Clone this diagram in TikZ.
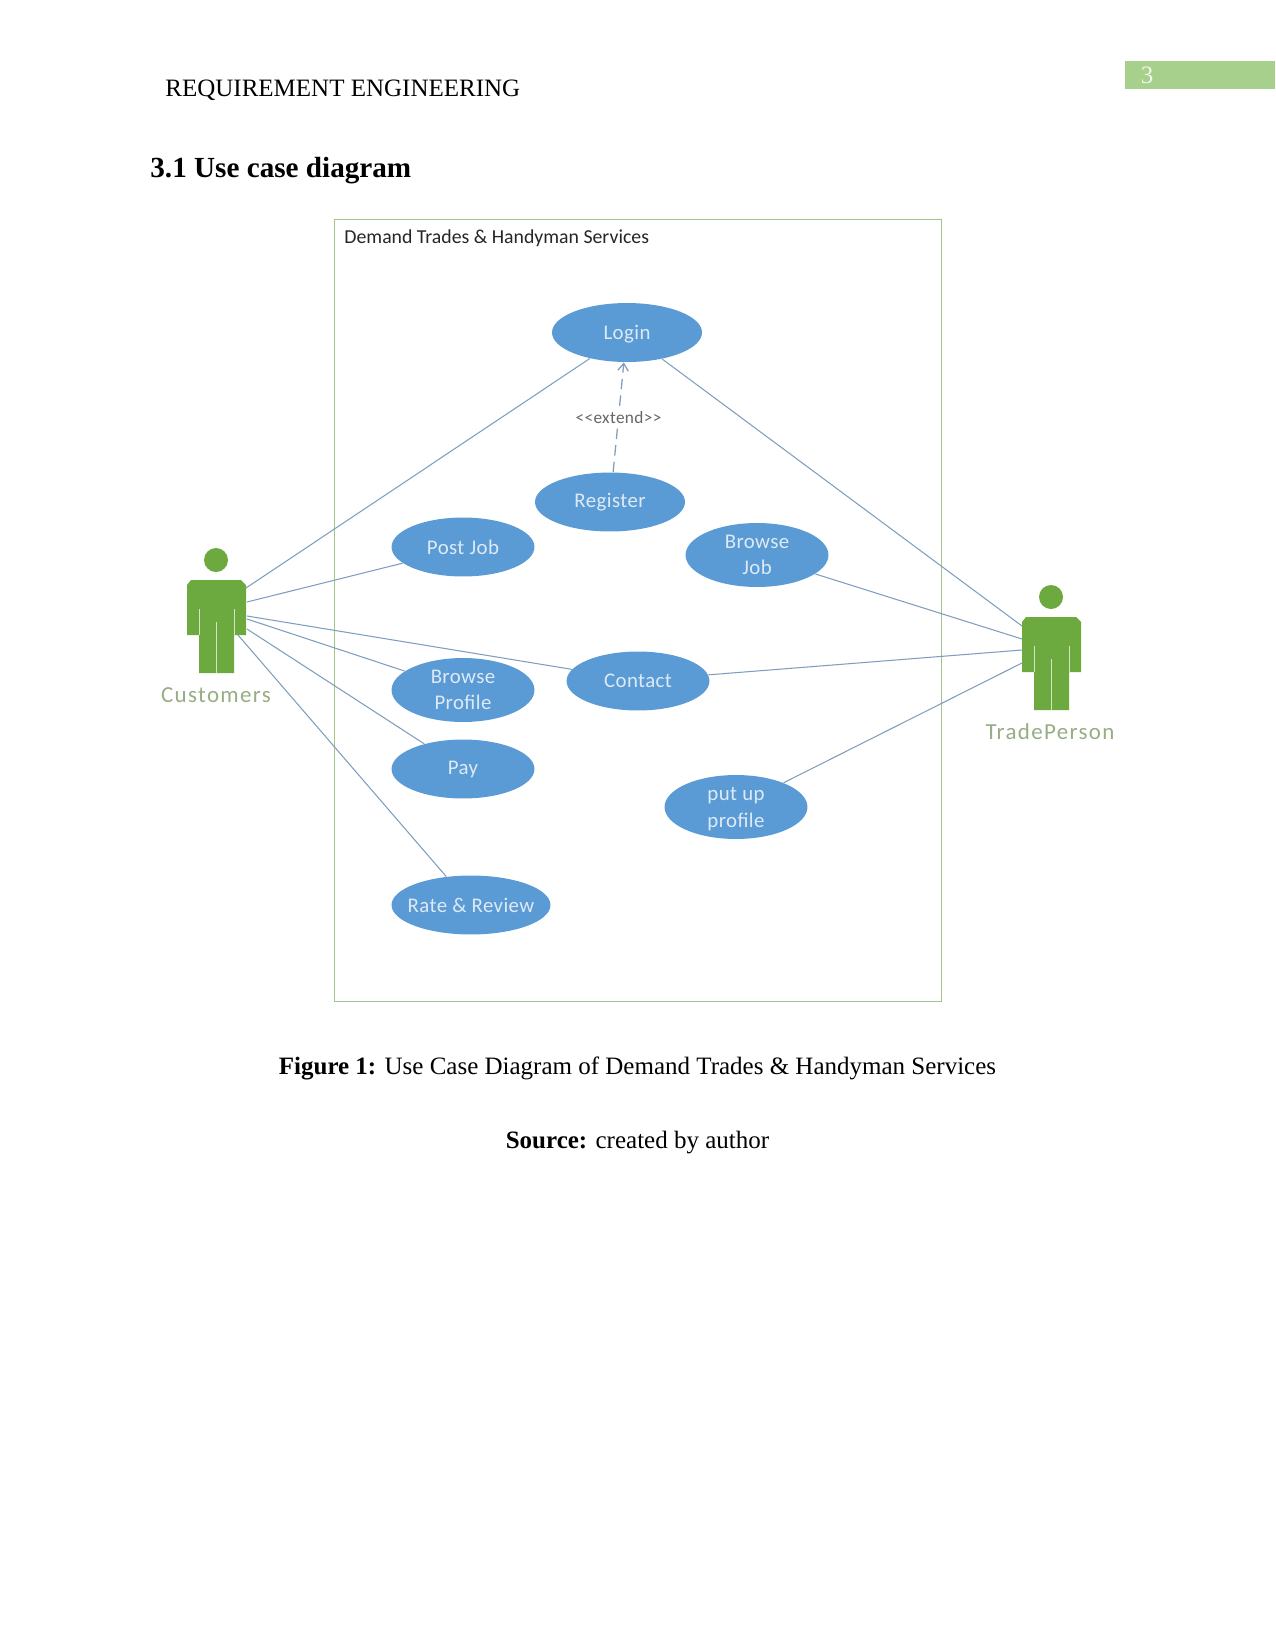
\documentclass[tikz,border=0pt]{standalone}
\usepackage{fontspec}
\setmainfont{Liberation Serif}
\newfontfamily\titlefont{Carlito}
\newfontfamily\ucfont[LetterSpace=2]{Carlito}
\newfontfamily\actorfont[LetterSpace=6]{Carlito}
\usetikzlibrary{shapes.geometric,arrows.meta}
\definecolor{ucblue}{HTML}{5B9BD5}
\definecolor{uctext}{HTML}{DDEAF6}
\definecolor{linkblue}{HTML}{7F9DBD}
\definecolor{actorgreen}{HTML}{6CA93F}
\definecolor{framegreen}{HTML}{A3C48B}
\definecolor{actortext}{HTML}{97AD83}
\definecolor{pagegreen}{HTML}{A8D08D}
\tikzset{
  every label/.style={text=uctext,align=center,font=\ucfont\fontsize{10bp}{12.5bp}\selectfont},
  usecase/.style={ellipse,fill=ucblue,inner sep=0pt,minimum width=68.6bp,minimum height=28.3bp},
  link/.style={draw=linkblue,line width=0.5bp},
  bodytext/.style={anchor=base,inner sep=0pt,font=\fontsize{12bp}{14bp}\selectfont},
  actorname/.style={inner sep=0pt,text=actortext,font=\actorfont\fontsize{11bp}{13bp}\selectfont},
  actorfig/.pic={
    \fill[actorgreen] (0,-20) circle (12);
    \fill[actorgreen] (-29,5) -- (-25,0) -- (25,0) -- (30,5) -- (30,55) -- (18,55) -- (18,93)
      -- (-17,93) -- (-17,55) -- (-29,55) -- cycle;
    \draw[white!70!actorgreen,line width=0.4bp] (-17,29) -- (-17,55) (18,29) -- (18,55) (0,42) -- (0,93);
  }
}
\begin{document}
\begin{tikzpicture}[x=0.48bp,y=-0.48bp]
\useasboundingbox (0,0) rectangle (1275,1651);
\fill[white] (0,0) rectangle (1275,1651);
\fill[pagegreen] (1125,61) rectangle (1275,89);
\node[anchor=base,inner sep=0pt,text=white!80!pagegreen,font=\fontsize{12bp}{14bp}\selectfont] (pagenum) at (1147,83) {3};
\node[bodytext,anchor=base west] (header) at (165,96) {REQUIREMENT ENGINEERING};
\node[bodytext,anchor=base west,font=\bfseries\fontsize{14bp}{16bp}\selectfont] (heading) at (150,177) {3.1 Use case diagram};
\draw[framegreen,line width=0.45bp] (334,219) rectangle (941,1001);
\node[anchor=west,inner sep=0pt,font=\titlefont\fontsize{9.5bp}{12bp}\selectfont,text=black!85] (system) at (344,238) {Demand Trades \& Handyman Services};
\node[usecase,minimum width=72bp,label={[yshift=-1bp]center:Login}] (login) at (627,332.5) {};
\node[usecase,minimum width=72bp,label={center:Register}] (register) at (610,502) {};
\node[usecase,label={center:Post Job}] (postjob) at (463,547) {};
\node[usecase,minimum height=30.7bp,label={center:Browse\\Job}] (browsejob) at (757,555) {};
\node[usecase,label={center:Contact}] (contact) at (638,681) {};
\node[usecase,minimum height=30.7bp,label={center:Browse\\Profile}] (browseprofile) at (463,690) {};
\node[usecase,label={center:Pay}] (pay) at (463,769) {};
\node[usecase,minimum height=30.7bp,label={[yshift=-1bp]center:put up\\profile}] (putup) at (736,807) {};
\node[usecase,minimum width=76.3bp,label={center:Rate \& Review}] (rate) at (471,905) {};
\pic at (216,580) {actorfig};
\pic at (1051,617) {actorfig};
\node[actorname] (customers) at (216,695) {Customers};
\node[actorname] (tradeperson) at (1050,732) {TradePerson};
% free ends on the two figures
\coordinate (c1) at (246,588);
\coordinate (c2) at (247,602);
\coordinate (c3) at (247,616);
\coordinate (c4) at (247,619);
\coordinate (c5) at (247,629);
\coordinate (c6) at (238,635);
\coordinate (t1) at (1022,626);
\coordinate (t2) at (1022,639);
\coordinate (t3) at (1022,650);
\coordinate (t4) at (1022,663);
\draw[link] (c1) -- (login.215);
\draw[link] (c2) -- (postjob.195);
\draw[link] (c3) -- (contact.170);
\draw[link] (c4) -- (browseprofile.162);
\draw[link] (c5) -- (pay.147);
\draw[link] (c6) -- (rate.131);
\draw[link] (t1) -- (login.323);
\draw[link] (t2) -- (browsejob.342);
\draw[link] (t3) -- (contact.5);
\draw[link] (t4) -- (putup.27);
\draw[link,dash pattern=on 5bp off 3bp,line width=0.6bp,-{Straight Barb[length=3.5bp,width=5bp]}] (register.84) -- node[fill=white,inner sep=1.5pt,text=black!60,font=\ucfont\fontsize{8.3bp}{10bp}\selectfont] {<{}<extend>{}>} (login.264);
\node[bodytext] (caption) at (637.5,1074) {\textbf{Figure 1:} Use Case Diagram of Demand Trades \& Handyman Services};
\node[bodytext] (source) at (637.5,1148) {\textbf{Source:} created by author};
\end{tikzpicture}
\end{document}
